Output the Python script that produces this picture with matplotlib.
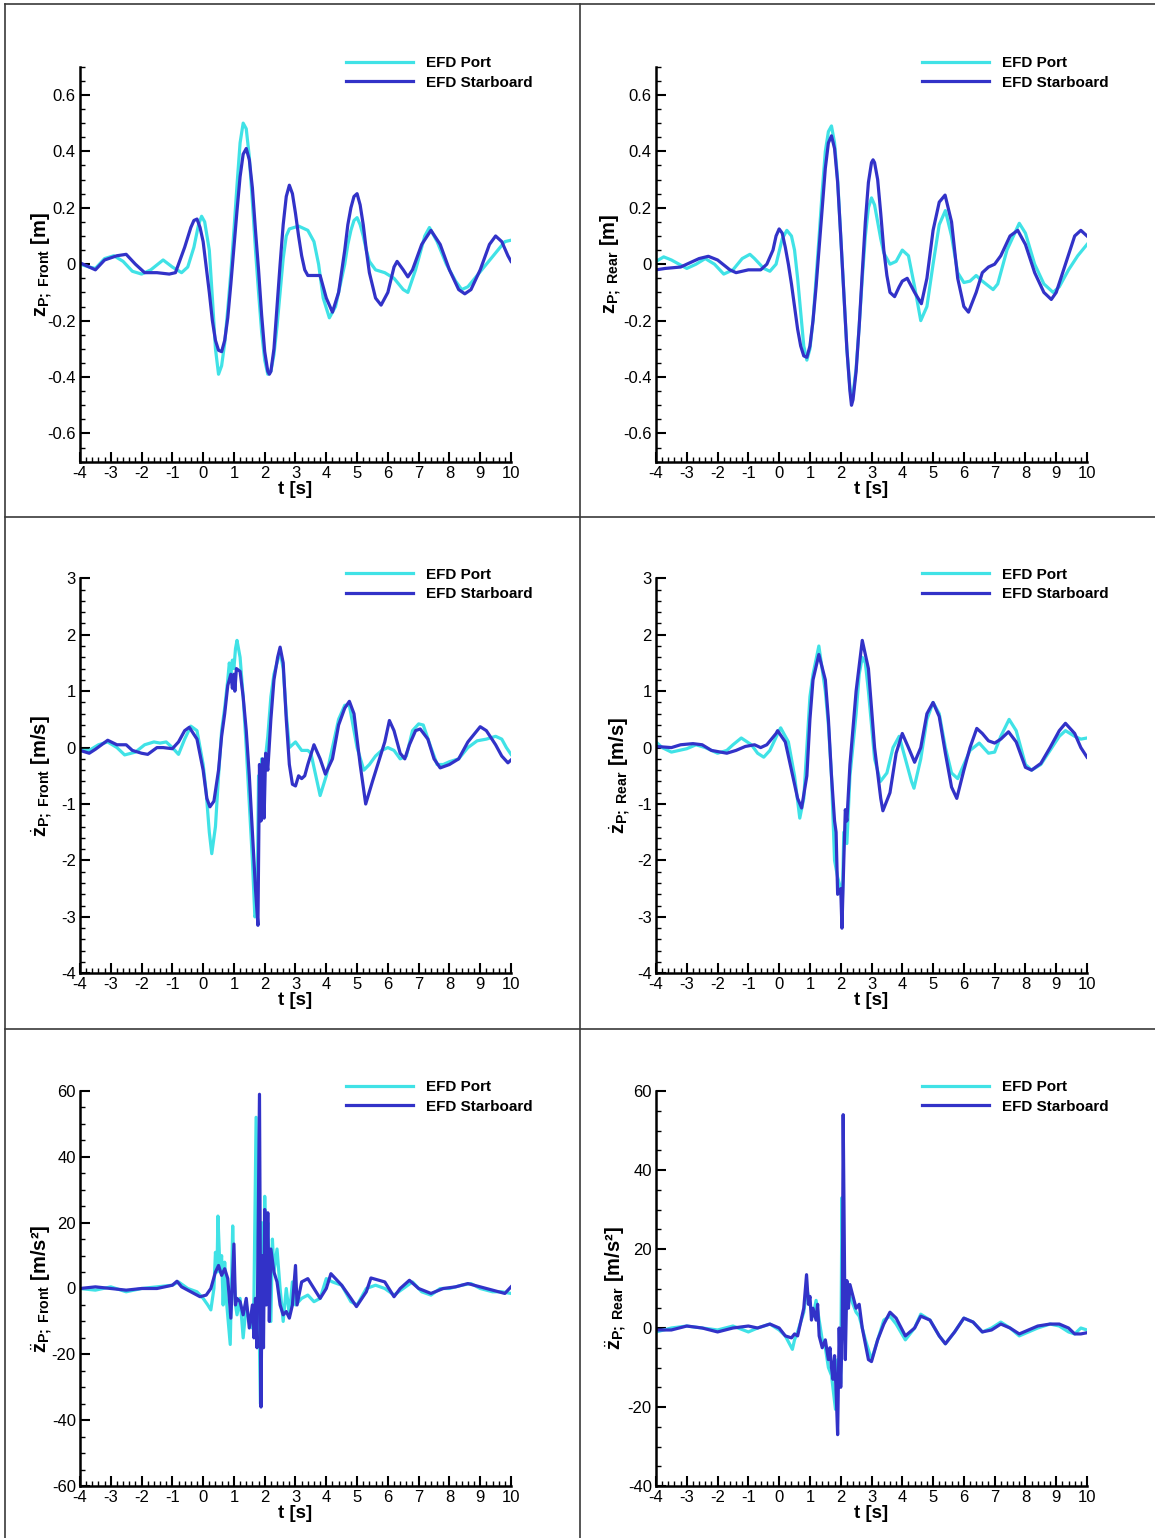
import matplotlib
matplotlib.use("Agg")
import matplotlib.pyplot as plt
from matplotlib.lines import Line2D
from matplotlib.ticker import MultipleLocator, FuncFormatter

plt.rcParams['font.family'] = ['Liberation Sans', 'DejaVu Sans']
plt.rcParams['mathtext.fontset'] = 'custom'
plt.rcParams['mathtext.rm'] = 'Liberation Sans'
plt.rcParams['mathtext.bf'] = 'Liberation Sans:bold'
plt.rcParams['mathtext.it'] = 'Liberation Sans:italic'
plt.rcParams['axes.unicode_minus'] = False

# ---------------- data ----------------
labels = ["EFD Port", "EFD Starboard"]

# heave displacement, front
t_zf_port = [-4, -3.7, -3.5, -3.2, -2.9, -2.6, -2.3, -2.0, -1.7, -1.3, -1.0, -0.7, -0.5, -0.3, -0.15, -0.05, 0.05, 0.2, 0.3, 0.4, 0.5, 0.6, 0.7, 0.8, 0.9, 1.0, 1.1, 1.2, 1.3, 1.4, 1.5, 1.6, 1.7, 1.8, 1.9, 2.0, 2.1, 2.2, 2.3, 2.4, 2.5, 2.6, 2.7, 2.8, 3.1, 3.4, 3.6, 3.75, 3.9, 4.1, 4.3, 4.6, 4.7, 4.8, 4.9, 5.0, 5.1, 5.2, 5.3, 5.4, 5.6, 5.9, 6.2, 6.5, 6.65, 6.9, 7.2, 7.35, 7.6, 7.9, 8.2, 8.4, 8.6, 8.9, 9.2, 9.5, 9.8, 10]
zf_port = [0.0, -0.01, -0.015, 0.02, 0.03, 0.01, -0.025, -0.035, -0.02, 0.015, -0.01, -0.03, -0.01, 0.06, 0.14, 0.17, 0.15, 0.05, -0.12, -0.3, -0.39, -0.36, -0.28, -0.16, -0.03, 0.12, 0.28, 0.43, 0.5, 0.48, 0.38, 0.22, 0.05, -0.1, -0.24, -0.34, -0.39, -0.38, -0.32, -0.22, -0.1, 0.02, 0.1, 0.125, 0.135, 0.12, 0.08, 0.0, -0.12, -0.19, -0.15, 0.0, 0.07, 0.12, 0.155, 0.165, 0.14, 0.1, 0.05, 0.01, -0.02, -0.03, -0.05, -0.09, -0.1, -0.02, 0.1, 0.13, 0.08, 0.0, -0.06, -0.09, -0.08, -0.04, 0.0, 0.04, 0.08, 0.085]
t_zf_stbd = [-4, -3.7, -3.5, -3.2, -2.8, -2.5, -2.2, -1.9, -1.5, -1.1, -0.9, -0.6, -0.4, -0.3, -0.2, -0.1, 0.0, 0.1, 0.2, 0.3, 0.4, 0.5, 0.6, 0.7, 0.8, 0.9, 1.0, 1.1, 1.2, 1.3, 1.4, 1.5, 1.6, 1.7, 1.8, 1.9, 2.0, 2.1, 2.15, 2.2, 2.3, 2.4, 2.5, 2.6, 2.7, 2.8, 2.9, 3.0, 3.1, 3.2, 3.3, 3.4, 3.6, 3.8, 4.0, 4.2, 4.4, 4.6, 4.7, 4.8, 4.9, 5.0, 5.1, 5.2, 5.3, 5.4, 5.6, 5.78, 6.0, 6.2, 6.3, 6.5, 6.65, 6.8, 7.1, 7.4, 7.7, 8.0, 8.3, 8.5, 8.7, 9.0, 9.3, 9.5, 9.7, 9.9, 10]
zf_stbd = [0.005, -0.01, -0.02, 0.015, 0.03, 0.035, 0.0, -0.03, -0.03, -0.035, -0.03, 0.06, 0.13, 0.155, 0.16, 0.13, 0.08, -0.01, -0.1, -0.2, -0.27, -0.305, -0.31, -0.27, -0.19, -0.07, 0.06, 0.19, 0.31, 0.39, 0.41, 0.37, 0.27, 0.12, -0.02, -0.18, -0.31, -0.38, -0.39, -0.38, -0.3, -0.15, 0.0, 0.14, 0.24, 0.28, 0.25, 0.18, 0.1, 0.03, -0.02, -0.04, -0.04, -0.04, -0.12, -0.17, -0.1, 0.05, 0.14, 0.2, 0.24, 0.25, 0.21, 0.14, 0.05, -0.03, -0.12, -0.145, -0.1, -0.01, 0.01, -0.02, -0.045, -0.02, 0.07, 0.12, 0.07, -0.02, -0.09, -0.105, -0.09, -0.02, 0.07, 0.1, 0.08, 0.03, 0.01]

# heave displacement, rear
t_zr_port = [-4, -3.75, -3.5, -3.0, -2.7, -2.4, -2.1, -1.8, -1.5, -1.2, -0.95, -0.8, -0.5, -0.3, -0.1, 0.1, 0.25, 0.4, 0.5, 0.6, 0.7, 0.8, 0.9, 1.0, 1.1, 1.2, 1.3, 1.4, 1.5, 1.6, 1.7, 1.8, 1.9, 2.0, 2.1, 2.2, 2.3, 2.35, 2.4, 2.5, 2.6, 2.7, 2.8, 2.9, 3.0, 3.1, 3.2, 3.3, 3.4, 3.6, 3.8, 4.0, 4.2, 4.4, 4.6, 4.8, 5.0, 5.2, 5.4, 5.6, 5.8, 6.0, 6.2, 6.4, 6.6, 6.95, 7.1, 7.4, 7.8, 8.0, 8.3, 8.6, 8.9, 9.1, 9.4, 9.7, 10]
zr_port = [0.01, 0.026, 0.015, -0.015, 0.0, 0.02, 0.0, -0.035, -0.02, 0.02, 0.035, 0.02, -0.015, -0.025, 0.0, 0.09, 0.12, 0.1, 0.05, -0.05, -0.17, -0.29, -0.34, -0.3, -0.2, -0.05, 0.1, 0.26, 0.4, 0.47, 0.49, 0.43, 0.3, 0.1, -0.1, -0.3, -0.44, -0.47, -0.46, -0.37, -0.22, -0.05, 0.1, 0.2, 0.235, 0.21, 0.15, 0.09, 0.04, 0.0, 0.01, 0.05, 0.03, -0.08, -0.2, -0.15, 0.0, 0.14, 0.19, 0.1, -0.03, -0.065, -0.06, -0.04, -0.06, -0.09, -0.07, 0.05, 0.145, 0.11, 0.0, -0.07, -0.1, -0.08, -0.02, 0.03, 0.07]
t_zr_stbd = [-4, -3.7, -3.2, -3.0, -2.6, -2.3, -2.0, -1.6, -1.4, -1.0, -0.6, -0.4, -0.2, -0.1, 0.0, 0.1, 0.2, 0.3, 0.4, 0.5, 0.6, 0.7, 0.8, 0.9, 1.0, 1.1, 1.2, 1.3, 1.4, 1.5, 1.6, 1.7, 1.8, 1.9, 2.0, 2.1, 2.2, 2.3, 2.35, 2.4, 2.5, 2.6, 2.7, 2.8, 2.9, 3.0, 3.05, 3.1, 3.2, 3.3, 3.4, 3.5, 3.6, 3.75, 3.9, 4.0, 4.16, 4.4, 4.62, 4.8, 5.0, 5.2, 5.39, 5.6, 5.8, 6.0, 6.15, 6.4, 6.6, 6.8, 7.0, 7.2, 7.5, 7.75, 8.0, 8.3, 8.6, 8.84, 9.0, 9.3, 9.6, 9.8, 10]
zr_stbd = [-0.02, -0.015, -0.01, 0.0, 0.02, 0.028, 0.015, -0.02, -0.03, -0.02, -0.02, 0.0, 0.05, 0.1, 0.125, 0.11, 0.06, 0.0, -0.07, -0.15, -0.23, -0.29, -0.325, -0.33, -0.29, -0.2, -0.08, 0.06, 0.2, 0.34, 0.43, 0.455, 0.41, 0.29, 0.1, -0.1, -0.3, -0.45, -0.5, -0.48, -0.38, -0.22, -0.03, 0.15, 0.29, 0.36, 0.37, 0.36, 0.3, 0.18, 0.05, -0.04, -0.1, -0.115, -0.08, -0.06, -0.05, -0.1, -0.14, -0.05, 0.12, 0.22, 0.245, 0.15, -0.05, -0.15, -0.17, -0.1, -0.03, -0.01, 0.0, 0.03, 0.1, 0.12, 0.07, -0.03, -0.1, -0.125, -0.1, 0.0, 0.1, 0.12, 0.1]

# heave velocity, front
t_vf_port = [-4, -3.7, -3.4, -3.1, -2.8, -2.55, -2.2, -1.9, -1.6, -1.4, -1.2, -1.0, -0.8, -0.6, -0.4, -0.2, 0.0, 0.1, 0.2, 0.28, 0.4, 0.5, 0.6, 0.7, 0.8, 0.85, 0.9, 0.95, 1.0, 1.05, 1.1, 1.2, 1.3, 1.4, 1.5, 1.6, 1.68, 1.75, 1.8, 1.85, 1.9, 2.0, 2.1, 2.2, 2.3, 2.4, 2.5, 2.6, 2.7, 2.8, 3.0, 3.2, 3.4, 3.5, 3.7, 3.8, 4.0, 4.2, 4.4, 4.6, 4.75, 5.0, 5.22, 5.4, 5.6, 5.8, 6.0, 6.2, 6.4, 6.6, 6.8, 7.0, 7.15, 7.4, 7.6, 7.8, 8.0, 8.3, 8.6, 8.9, 9.2, 9.5, 9.7, 9.85, 10]
vf_port = [-0.05, -0.05, 0.05, 0.1, 0.0, -0.13, -0.08, 0.05, 0.1, 0.08, 0.1, 0.0, -0.12, 0.15, 0.38, 0.3, -0.3, -0.8, -1.5, -1.88, -1.4, -0.5, 0.3, 0.7, 1.2, 1.5, 1.3, 1.55, 1.4, 1.75, 1.9, 1.6, 0.9, 0.0, -1.0, -2.0, -3.0, -2.9, -0.5, -1.0, -0.2, -0.3, 0.2, 0.9, 1.3, 1.5, 1.7, 1.4, 0.6, 0.0, 0.1, -0.05, -0.05, -0.1, -0.6, -0.85, -0.5, 0.0, 0.5, 0.75, 0.75, 0.0, -0.4, -0.3, -0.15, -0.05, 0.0, -0.05, -0.2, -0.15, 0.3, 0.42, 0.4, 0.0, -0.3, -0.3, -0.25, -0.2, 0.0, 0.12, 0.15, 0.2, 0.15, 0.0, -0.12]
t_vf_stbd = [-4, -3.7, -3.5, -3.1, -2.8, -2.5, -2.3, -2.0, -1.8, -1.5, -1.3, -1.0, -0.8, -0.6, -0.45, -0.2, 0.0, 0.12, 0.22, 0.35, 0.5, 0.6, 0.7, 0.8, 0.9, 0.95, 1.0, 1.03, 1.08, 1.2, 1.3, 1.4, 1.5, 1.6, 1.7, 1.78, 1.83, 1.88, 1.93, 1.98, 2.03, 2.1, 2.2, 2.3, 2.42, 2.5, 2.6, 2.7, 2.8, 2.9, 3.0, 3.1, 3.2, 3.3, 3.4, 3.6, 3.8, 3.97, 4.2, 4.4, 4.6, 4.75, 4.9, 5.1, 5.28, 5.5, 5.7, 5.9, 6.05, 6.2, 6.4, 6.55, 6.7, 6.9, 7.05, 7.3, 7.5, 7.7, 8.0, 8.3, 8.6, 9.0, 9.2, 9.5, 9.7, 9.9, 10]
vf_stbd = [-0.05, -0.1, -0.03, 0.13, 0.05, 0.05, -0.05, -0.1, -0.12, 0.0, 0.0, -0.02, 0.1, 0.3, 0.36, 0.15, -0.4, -0.9, -1.05, -0.95, -0.4, 0.2, 0.6, 1.1, 1.3, 1.05, 1.3, 1.0, 1.4, 1.35, 0.9, 0.3, -0.5, -1.5, -2.5, -3.15, -0.3, -1.3, -0.2, -1.25, -0.1, -0.4, 0.5, 1.2, 1.6, 1.78, 1.5, 0.5, -0.3, -0.65, -0.68, -0.5, -0.55, -0.5, -0.3, 0.05, -0.2, -0.47, -0.2, 0.4, 0.7, 0.82, 0.6, -0.3, -1.0, -0.6, -0.25, 0.1, 0.48, 0.3, -0.1, -0.2, 0.05, 0.3, 0.33, 0.15, -0.2, -0.36, -0.3, -0.2, 0.1, 0.37, 0.3, 0.05, -0.15, -0.27, -0.22]

# heave velocity, rear
t_vr_port = [-4, -3.8, -3.5, -3.0, -2.7, -2.4, -2.0, -1.7, -1.5, -1.23, -0.9, -0.7, -0.5, -0.3, 0.0, 0.05, 0.3, 0.5, 0.67, 0.8, 0.9, 1.0, 1.1, 1.29, 1.5, 1.6, 1.7, 1.8, 1.9, 2.0, 2.05, 2.1, 2.2, 2.3, 2.5, 2.6, 2.7, 2.8, 2.9, 3.1, 3.29, 3.5, 3.7, 3.9, 4.1, 4.3, 4.38, 4.6, 4.8, 5.0, 5.2, 5.4, 5.6, 5.8, 6.0, 6.2, 6.5, 6.8, 7.0, 7.2, 7.47, 7.7, 8.0, 8.2, 8.5, 8.8, 9.1, 9.3, 9.6, 9.8, 10]
vr_port = [0.1, 0.0, -0.08, -0.02, 0.05, 0.0, -0.1, -0.05, 0.05, 0.17, 0.05, -0.1, -0.17, -0.05, 0.3, 0.35, 0.1, -0.5, -1.25, -0.9, 0.0, 0.9, 1.3, 1.8, 1.0, 0.4, -0.5, -2.0, -2.3, -2.5, -2.8, -1.5, -1.7, -0.5, 0.6, 1.3, 1.6, 1.5, 1.0, -0.2, -0.6, -0.45, 0.0, 0.2, -0.2, -0.6, -0.72, -0.2, 0.5, 0.8, 0.6, 0.0, -0.45, -0.55, -0.3, -0.05, 0.08, -0.1, -0.08, 0.2, 0.5, 0.3, -0.3, -0.4, -0.3, -0.05, 0.2, 0.3, 0.2, 0.15, 0.17]
t_vr_stbd = [-4, -3.5, -3.2, -2.8, -2.5, -2.2, -1.9, -1.7, -1.4, -1.1, -0.8, -0.6, -0.4, -0.1, -0.05, 0.2, 0.4, 0.6, 0.73, 0.9, 1.0, 1.1, 1.29, 1.5, 1.6, 1.7, 1.8, 1.85, 1.9, 2.0, 2.04, 2.1, 2.15, 2.2, 2.3, 2.5, 2.7, 2.9, 3.1, 3.3, 3.37, 3.6, 3.8, 4.0, 4.2, 4.4, 4.6, 4.8, 5.0, 5.2, 5.4, 5.6, 5.77, 6.0, 6.2, 6.42, 6.6, 6.8, 7.0, 7.2, 7.45, 7.7, 8.0, 8.2, 8.5, 8.8, 9.1, 9.3, 9.6, 9.8, 10]
vr_stbd = [0.02, 0.0, 0.05, 0.07, 0.05, -0.05, -0.08, -0.1, -0.05, 0.02, 0.05, 0.0, 0.05, 0.25, 0.3, 0.1, -0.4, -0.9, -1.07, -0.5, 0.5, 1.2, 1.65, 1.2, 0.5, -0.5, -1.3, -1.5, -2.6, -2.5, -3.2, -2.0, -1.1, -1.3, -0.3, 1.0, 1.9, 1.4, 0.0, -0.9, -1.12, -0.8, -0.1, 0.25, 0.0, -0.26, 0.0, 0.6, 0.8, 0.55, -0.1, -0.7, -0.9, -0.4, 0.0, 0.34, 0.25, 0.12, 0.08, 0.15, 0.28, 0.1, -0.35, -0.4, -0.28, 0.0, 0.3, 0.43, 0.25, 0.0, -0.17]

# heave acceleration, front
t_af_port = [-4, -3.5, -3, -2.5, -2, -1.5, -1, -0.8, -0.5, -0.2, 0.0, 0.15, 0.25, 0.35, 0.4, 0.45, 0.48, 0.55, 0.6, 0.65, 0.7, 0.75, 0.88, 0.96, 1.0, 1.05, 1.1, 1.2, 1.3, 1.4, 1.5, 1.6, 1.65, 1.72, 1.78, 1.86, 1.9, 1.95, 2.0, 2.05, 2.1, 2.2, 2.25, 2.3, 2.4, 2.5, 2.6, 2.7, 2.8, 2.9, 3.0, 3.2, 3.4, 3.6, 3.8, 4.0, 4.2, 4.5, 4.8, 5.0, 5.3, 5.6, 5.9, 6.2, 6.5, 6.8, 7.1, 7.4, 7.7, 8.0, 8.4, 8.7, 9.0, 9.4, 9.7, 10]
af_port = [0, -0.5, 0.5, -1, 0, 0.5, 1, 2, 0, -1, -3, -5, -6.5, 0, 11, 5, 22, 5, 10, -5, 8, -3, -17, 19, 5, -5, -8, -3, -15, -5, -10, -12, -3, 52, 10, -35, 20, -10, 28, 5, 20, -10, 15, 5, 12, 0, -10, 0, -8, 2, -5, -3, -2, -4, -3, 3, 2, 1, -4, -5, 0, 1, 0, -2, 0, 2, -1, -2, 0, 0, 1, 1.5, 0, -1, -1, -1.5]
t_af_stbd = [-4, -3.5, -3, -2.5, -2, -1.5, -1, -0.85, -0.7, -0.4, -0.1, 0.1, 0.25, 0.4, 0.5, 0.6, 0.7, 0.8, 0.9, 1.0, 1.05, 1.1, 1.2, 1.3, 1.4, 1.5, 1.6, 1.65, 1.7, 1.75, 1.83, 1.88, 1.92, 1.96, 2.0, 2.05, 2.1, 2.15, 2.2, 2.3, 2.4, 2.5, 2.6, 2.7, 2.8, 2.9, 3.0, 3.05, 3.2, 3.4, 3.6, 3.8, 4.0, 4.15, 4.5, 4.8, 4.98, 5.3, 5.45, 5.9, 6.2, 6.4, 6.7, 7.0, 7.4, 7.8, 8.2, 8.6, 9.0, 9.4, 9.8, 10]
af_stbd = [0, 0.5, 0, -0.5, 0, 0, 1, 2.2, 0.5, -1, -2.5, -2, 0, 5, 7, 4, 6, 3, -9, 13.5, -5, -3, -4, -8, -3, -12, -5, -15, -3, -18, 59, -36, 10, -18, 24, -5, 23, -10, 12, 5, 2, -5, -8, -7, -9, -5, 7, -5, 2, 3, 0, -3, 0, 4.5, 1, -3, -5.5, -1, 3.2, 2, -2.5, 0, 2.5, 0, -1.5, 0, 0.5, 1.5, 0.5, -0.5, -1.5, 0.5]

# heave acceleration, rear
t_ar_port = [-4, -3.5, -3, -2.5, -2, -1.5, -1, -0.7, -0.3, 0.0, 0.2, 0.43, 0.5, 0.6, 0.8, 0.9, 1.0, 1.1, 1.2, 1.3, 1.4, 1.5, 1.6, 1.7, 1.83, 1.9, 2.0, 2.04, 2.1, 2.2, 2.3, 2.4, 2.5, 2.6, 2.8, 3.0, 3.2, 3.4, 3.6, 3.8, 4.1, 4.4, 4.6, 4.9, 5.2, 5.4, 5.7, 6.0, 6.3, 6.6, 6.9, 7.2, 7.5, 7.8, 8.1, 8.4, 8.8, 9.1, 9.4, 9.6, 9.8, 10]
ar_port = [-1, 0, 0.5, 0, -0.5, 0.5, -1, 0, 1, -0.5, -2, -5.4, -3, -1, 4, 10, 6, 3, 7, 2, -3, -5, -10, -12, -20.6, -8, -14, 33, 5, 10, 8, 6, 4, 3, -3, -8, -3, 2, 3, 1, -3, 0, 3.5, 2, -2, -4, -1, 2.5, 1.5, -1, 0, 1.5, 0, -2, -1, 0, 1, 0.5, -1, -1.5, 0, -0.5]
t_ar_stbd = [-4, -3.5, -3, -2.5, -2, -1.5, -1, -0.7, -0.3, 0.0, 0.2, 0.4, 0.5, 0.6, 0.8, 0.89, 0.95, 1.0, 1.05, 1.1, 1.2, 1.25, 1.3, 1.4, 1.5, 1.6, 1.65, 1.7, 1.75, 1.8, 1.85, 1.9, 1.95, 2.0, 2.05, 2.08, 2.15, 2.2, 2.25, 2.3, 2.4, 2.5, 2.6, 2.7, 2.8, 2.9, 3.0, 3.2, 3.4, 3.6, 3.8, 4.1, 4.4, 4.6, 4.9, 5.2, 5.4, 5.7, 6.0, 6.3, 6.6, 6.9, 7.2, 7.5, 7.8, 8.1, 8.4, 8.8, 9.1, 9.4, 9.6, 9.8, 10]
ar_stbd = [-0.5, -0.5, 0.5, 0, -1, 0, 0.5, 0, 1, 0, -2, -2.5, -1.5, -2, 5, 13.5, 6, 8, 2, 5, 2, 6, -2, -5, -3, -8, -5, -10, -13, -7, -16, -27, 0, -15, 0, 54, -8, 12, 5, 11, 8, 5, 6, 0, -4, -8, -8.5, -3, 1, 4, 2.5, -2, 0, 3, 2, -2, -4, -1, 2.5, 1.5, -1, -0.5, 1, 0, -1.5, -0.5, 0.5, 1, 1, 0, -1.5, -1.5, -1.2]

# axis settings per panel
ylabels = [
    r"$\mathbf{z}_{\mathbf{P;\ Front}}$ [m]",
    r"$\mathbf{z}_{\mathbf{P;\ Rear}}$ [m]",
    r"$\dot{\mathbf{z}}_{\mathbf{P;\ Front}}$ [m/s]",
    r"$\dot{\mathbf{z}}_{\mathbf{P;\ Rear}}$ [m/s]",
    r"$\ddot{\mathbf{z}}_{\mathbf{P;\ Front}}$ [m/s²]",
    r"$\ddot{\mathbf{z}}_{\mathbf{P;\ Rear}}$ [m/s²]",
]
ylims = [(-0.7, 0.7), (-0.7, 0.7), (-4, 3), (-4, 3), (-60, 60), (-40, 60)]
ymajor = [0.2, 0.2, 1, 1, 20, 20]
yminor = [0.05, 0.05, 0.2, 0.2, 5, 5]

series = [
    (t_zf_port, zf_port, t_zf_stbd, zf_stbd),
    (t_zr_port, zr_port, t_zr_stbd, zr_stbd),
    (t_vf_port, vf_port, t_vf_stbd, vf_stbd),
    (t_vr_port, vr_port, t_vr_stbd, vr_stbd),
    (t_af_port, af_port, t_af_stbd, af_stbd),
    (t_ar_port, ar_port, t_ar_stbd, ar_stbd),
]

c_port = "#40E2E6"
c_stbd = "#3232C8"


def fmt(v, pos):
    v = round(v, 6)
    if v == 0:
        return "0"
    return "%g" % v


W, H = 1155, 1538
fig = plt.figure(figsize=(W / 100, H / 100), dpi=100)

col_left = [80, 656]
row_top = [66.7, 578.3, 1091]
ax_w, ax_h = 431, 395
ylabel_x = [-0.057, -0.074, -0.057, -0.054, -0.057, -0.062]

for i in range(6):
    r, c = divmod(i, 2)
    left = col_left[c] / W
    bottom = 1 - (row_top[r] + ax_h) / H
    ax = fig.add_axes([left, bottom, ax_w / W, ax_h / H])
    tp, yp, ts, ys = series[i]
    ax.plot(tp, yp, color=c_port, lw=2.3, solid_joinstyle="round", label=labels[0])
    ax.plot(ts, ys, color=c_stbd, lw=2.3, solid_joinstyle="round", label=labels[1])
    ax.set_xlim(-4, 10)
    ax.set_ylim(*ylims[i])
    ax.xaxis.set_major_locator(MultipleLocator(1))
    ax.xaxis.set_minor_locator(MultipleLocator(0.2))
    ax.yaxis.set_major_locator(MultipleLocator(ymajor[i]))
    ax.yaxis.set_minor_locator(MultipleLocator(yminor[i]))
    ax.yaxis.set_major_formatter(FuncFormatter(fmt))
    ax.xaxis.set_major_formatter(FuncFormatter(fmt))
    for s in ["top", "right"]:
        ax.spines[s].set_visible(False)
    for s in ["left", "bottom"]:
        ax.spines[s].set_linewidth(1.8)
    ax.tick_params(which="major", direction="in", length=7, width=1.5, labelsize=12, pad=3)
    ax.tick_params(which="minor", direction="in", length=3.5, width=1.0)
    ax.set_xlabel("t [s]", fontsize=13.5, fontweight="bold", labelpad=0)
    ax.set_ylabel(ylabels[i], fontsize=14.5, fontweight="bold")
    ax.yaxis.set_label_coords(ylabel_x[i], 0.5)
    ax.patch.set_alpha(0)
    ax.legend(loc="upper left", bbox_to_anchor=(0.617, 1.027), frameon=False,
              prop={"weight": "bold", "size": 11}, handlelength=4.4,
              handletextpad=0.85, labelspacing=0.36, borderpad=0, borderaxespad=0)

# panel divider lines
lc = "#3a3a3a"
fig.add_artist(Line2D([580 / W, 580 / W], [0, 1 - 4 / H], transform=fig.transFigure, color=lc, lw=1.2))
fig.add_artist(Line2D([5 / W, 5 / W], [0, 1 - 4 / H], transform=fig.transFigure, color=lc, lw=1.2))
fig.add_artist(Line2D([5 / W, 1], [1 - 4 / H, 1 - 4 / H], transform=fig.transFigure, color=lc, lw=1.2))
for yy in [517, 1029]:
    fig.add_artist(Line2D([5 / W, 1], [1 - yy / H, 1 - yy / H], transform=fig.transFigure, color=lc, lw=1.2))

fig.savefig("out.png", dpi=100)
